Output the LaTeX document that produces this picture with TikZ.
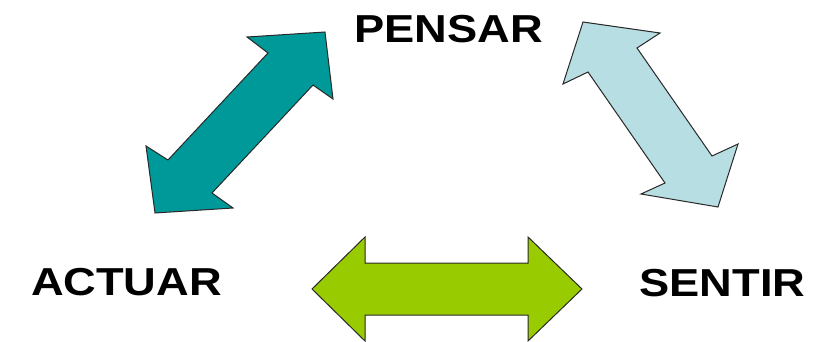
\documentclass[tikz,border=0pt]{standalone}
\usepackage{fontspec}
\setmainfont{Liberation Sans}
\usetikzlibrary{calc}
\definecolor{teal1}{RGB}{0,153,153}
\definecolor{lblue}{RGB}{183,222,227}
\definecolor{lgreen}{RGB}{153,204,0}
\definecolor{edge}{RGB}{40,40,40}
\begin{document}
\begin{tikzpicture}[x=1pt,y=-1pt,
  word/.style={inner sep=0pt, font=\fontsize{39}{41}\selectfont\bfseries},
  dblarrow/.style={draw=edge, line width=1pt, line join=miter}]
\useasboundingbox (0,0) rectangle (820,342);
\fill[white] (0,0) rectangle (820,342);
% words
\node[word] (pensar) at (448.5,29) {\scalebox{1.16}[1]{PENSAR}};
\node[word] (actuar) at (126.5,282.5) {\scalebox{1.16}[1]{ACTUAR}};
\node[word] (sentir) at (722.5,283.5) {\scalebox{1.16}[1]{SENTIR}};
% teal arrow (ACTUAR - PENSAR)
\draw[dblarrow, fill=teal1] (325,32) -- (333,99) -- (313,85) -- (212,193) -- (233,208)
  -- (155,213) -- (146,146) -- (168,160) -- (268,53) -- (247,37) -- cycle;
% light blue arrow (PENSAR - SENTIR)
\draw[dblarrow, fill=lblue] (583,22) -- (660,33) -- (637,48) -- (712,156) -- (738,144)
  -- (718,207) -- (641,194) -- (665,183) -- (588,72) -- (563,84) -- cycle;
% green arrow (ACTUAR - SENTIR)
\draw[dblarrow, fill=lgreen] (312,289) -- (365,237) -- (365,263) -- (528,263) -- (528,237)
  -- (582,289) -- (528,341) -- (528,315) -- (365,315) -- (365,341) -- cycle;
\end{tikzpicture}
\end{document}
